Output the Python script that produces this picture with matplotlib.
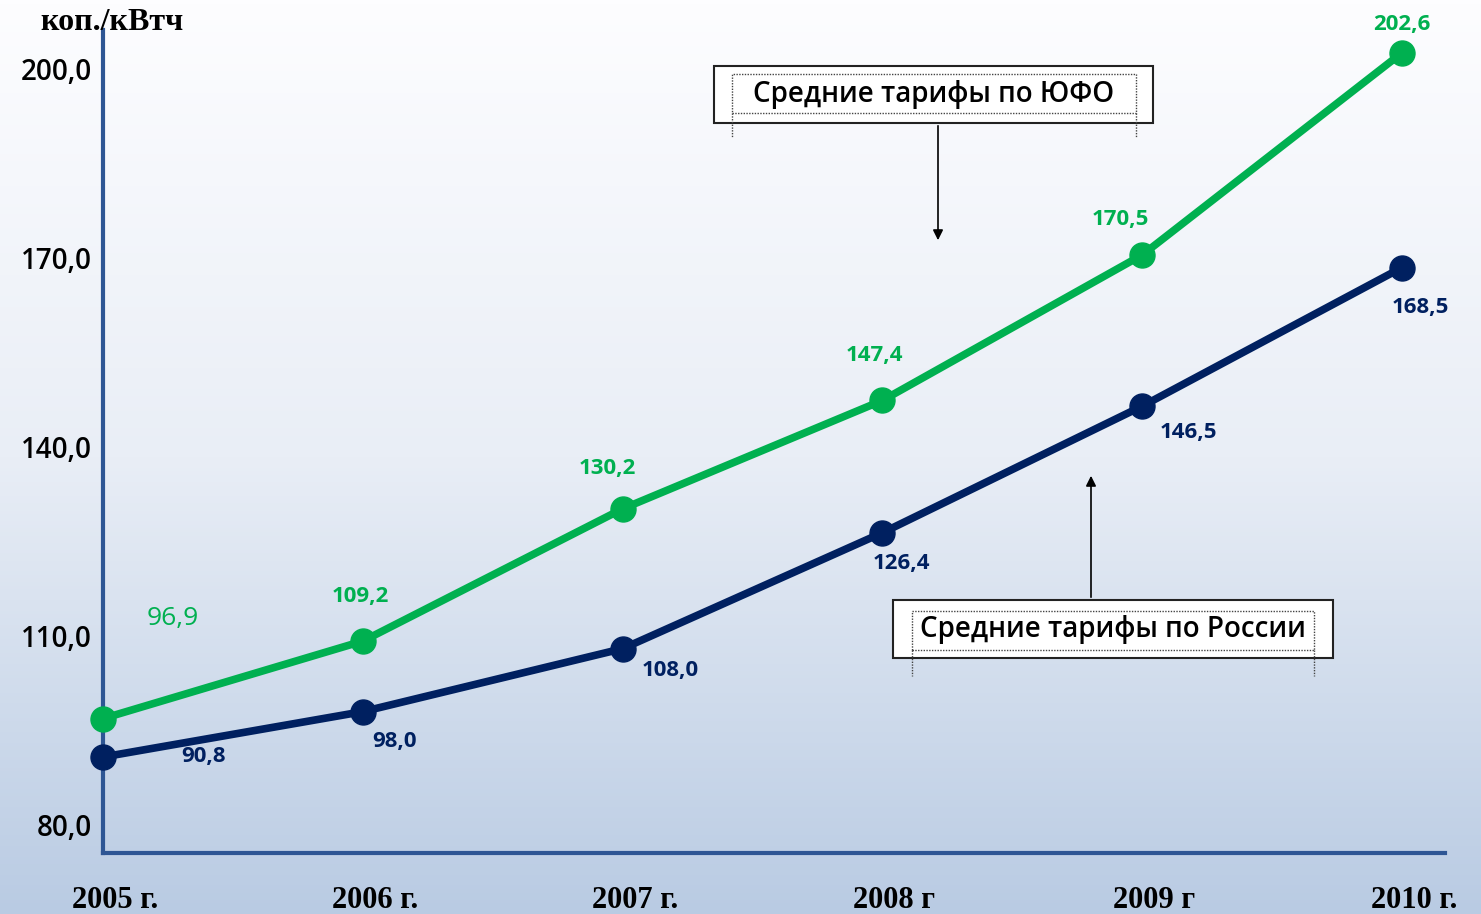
import matplotlib.pyplot as plt
import numpy as np
from matplotlib.colors import LinearSegmentedColormap
from matplotlib.patches import Rectangle, FancyArrowPatch
from matplotlib.lines import Line2D
import matplotlib.transforms as mtransforms

# данные
years = ['2005 г.', '2006 г.', '2007 г.', '2008 г', '2009 г', '2010 г.']
tariff_ufo = [96.9, 109.2, 130.2, 147.4, 170.5, 202.6]
tariff_russia = [90.8, 98.0, 108.0, 126.4, 146.5, 168.5]
y_ticks = [80, 110, 140, 170, 200]
y_tick_labels = ['80,0', '110,0', '140,0', '170,0', '200,0']

GREEN = '#00b050'
NAVY = '#002060'
AXIS = '#2e5694'
W, H = 1481, 914
SANS = ['Open Sans', 'DejaVu Sans']


def fx(x):
    return x / W


def fy(y):
    return 1 - y / H


fig = plt.figure(figsize=(W / 100, H / 100), dpi=100)

# фон с градиентом
bg = fig.add_axes([0, 0, 1, 1])
grad = np.linspace(0, 1, 256).reshape(-1, 1)
cmap = LinearSegmentedColormap.from_list('bg', ['#fdfdff', '#e9eef6', '#b9cbe3'])
bg.imshow(grad, aspect='auto', extent=[0, 1, 0, 1], cmap=cmap, origin='upper')
bg.axis('off')

ax = fig.add_axes([fx(103), fy(853), fx(1445) - fx(103), fy(30) - fy(853)])
ax.patch.set_alpha(0)

x = np.arange(len(years))
ax.plot(x, tariff_ufo, color=GREEN, lw=5.5, marker='o', ms=18, clip_on=False, zorder=3)
ax.plot(x, tariff_russia, color=NAVY, lw=5.5, marker='o', ms=18, clip_on=False, zorder=3)

ax.set_xlim(0, 5.165)
ax.set_ylim(75.56, 206.2)

for s in ['top', 'right']:
    ax.spines[s].set_visible(False)
for s in ['left', 'bottom']:
    ax.spines[s].set_color(AXIS)
    ax.spines[s].set_linewidth(3)

ax.set_yticks(y_ticks)
ax.set_yticklabels(y_tick_labels, fontsize=20, family=SANS, fontweight='semibold')
ax.set_xticks(x)
ax.set_xticklabels(years, fontsize=22, family='Liberation Serif', fontweight='bold')
ax.tick_params(axis='both', length=0)
ax.tick_params(axis='y', pad=8)
ax.tick_params(axis='x', pad=24)
shift = mtransforms.ScaledTranslation(12 / 100, 0, fig.dpi_scale_trans)
for lbl in ax.get_xticklabels():
    lbl.set_transform(lbl.get_transform() + shift)

# подписи значений
ufo_offsets = [(70, 100), (-2, 45), (-15, 40), (-8, 45), (-22, 35), (0, 28)]
rus_offsets = [(101, 0), (32, -30), (48, -22), (19, -31), (46, -26), (18, -40)]
for i, v in enumerate(tariff_ufo):
    big = i == 0
    ax.annotate(f'{v:.1f}'.replace('.', ','), (x[i], v), xytext=ufo_offsets[i],
                textcoords='offset pixels', ha='center', va='center', color=GREEN,
                fontsize=19 if big else 16, fontweight='normal' if big else 'bold',
                family=SANS, annotation_clip=False)
for i, v in enumerate(tariff_russia):
    ax.annotate(f'{v:.1f}'.replace('.', ','), (x[i], v), xytext=rus_offsets[i],
                textcoords='offset pixels', ha='center', va='center', color=NAVY,
                fontsize=16, fontweight='bold', family=SANS, annotation_clip=False)

# единицы измерения
fig.text(fx(112), fy(22), 'коп./кВтч', ha='center', va='center', fontsize=23,
         family='Liberation Serif', fontweight='bold', color='black')


def callout(x0, y0, x1, y1, text, inner, arrow):
    fig.patches.append(Rectangle((fx(x0), fy(y1)), fx(x1) - fx(x0), fy(y0) - fy(y1),
                                 transform=fig.transFigure, facecolor='white',
                                 edgecolor='#222222', lw=1.5, zorder=5))
    ix0, iy0, ix1, iy1, iy2 = inner
    fig.patches.append(Rectangle((fx(ix0), fy(iy1)), fx(ix1) - fx(ix0), fy(iy0) - fy(iy1),
                                 transform=fig.transFigure, facecolor='none',
                                 edgecolor='#444444', lw=1, ls=(0, (1, 1)), zorder=6))
    for xx in (ix0, ix1):
        fig.lines.append(Line2D([fx(xx), fx(xx)], [fy(iy1), fy(iy2)], transform=fig.transFigure,
                                color='#444444', lw=1, ls=(0, (1, 1)), zorder=6))
    fig.text(fx((x0 + x1) / 2), fy((y0 + y1) / 2), text, ha='center', va='center',
             fontsize=20, family=SANS, fontweight='semibold', color='black', zorder=7)
    ax0, ay0, ax1, ay1 = arrow
    fig.add_artist(FancyArrowPatch(
        (fx(ax0), fy(ay0)), (fx(ax1), fy(ay1)), transform=fig.transFigure,
        arrowstyle='-|>', mutation_scale=15, color='black', lw=1.2, zorder=5))


callout(714, 66, 1153, 123, 'Средние тарифы по ЮФО', (732, 74, 1136, 113, 138), (938, 123, 938, 243))
callout(893, 600, 1333, 658, 'Средние тарифы по России', (912, 611, 1314, 650, 676), (1091, 600, 1091, 473))

fig.savefig('out.png', dpi=100)
